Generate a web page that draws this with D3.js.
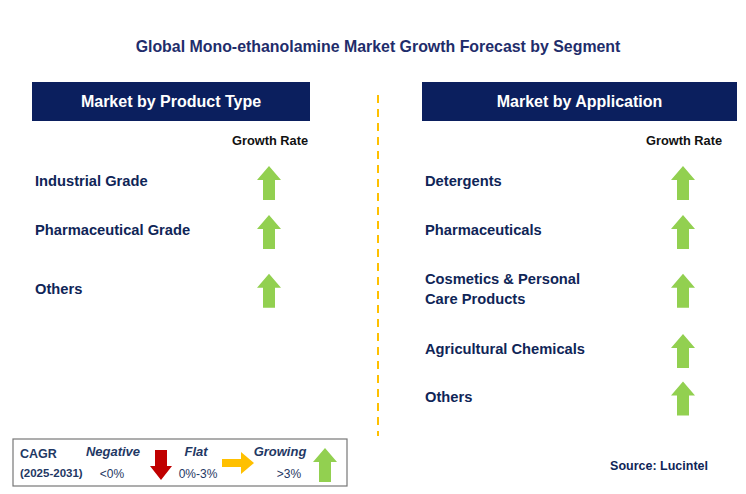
<!DOCTYPE html>
<html><head><meta charset="utf-8">
<script src="https://cdn.jsdelivr.net/npm/d3@7"></script>
<style>body{margin:0;background:#fff}text{font-family:Arial,"Liberation Sans",sans-serif}</style>
</head><body>
<script>
const title = "Global Mono-ethanolamine Market Growth Forecast by Segment";
const productTypes = ["Industrial Grade", "Pharmaceutical Grade", "Others"];
const productGrowth = ["growing", "growing", "growing"];
const applications = ["Detergents", "Pharmaceuticals", "Cosmetics & Personal|Care Products", "Agricultural Chemicals", "Others"];
const applicationGrowth = ["growing", "growing", "growing", "growing", "growing"];

const W = 746, H = 494;
const navy = "#0b1f5e", green = "#92d050", red = "#c00000", amber = "#ffc000";
const svg = d3.select("body").append("svg").attr("width", W).attr("height", H);

svg.append("text").attr("x", 378).attr("y", 52).attr("text-anchor", "middle")
  .attr("font-size", 15.9).attr("font-weight", "bold").attr("fill", "#1f2d6b").text(title);

// divider
svg.append("line").attr("x1", 378).attr("x2", 378).attr("y1", 95).attr("y2", 436)
  .attr("stroke", amber).attr("stroke-width", 2).attr("stroke-dasharray", "8,6");

function upArrow(g, cx, cy, color) {
  const w = 22, h = 34, hw = 10, sh = 14;
  g.append("path").attr("fill", color)
    .attr("d", `M${cx},${cy - h/2} L${cx + w/2 + 1},${cy - h/2 + sh} L${cx + hw/2 + 1},${cy - h/2 + sh} L${cx + hw/2 + 1},${cy + h/2} L${cx - hw/2 - 1},${cy + h/2} L${cx - hw/2 - 1},${cy - h/2 + sh} L${cx - w/2 - 1},${cy - h/2 + sh} Z`);
}

function panel(x0, x1, header, cats, growth, arrowX, slots) {
  const g = svg.append("g");
  g.append("rect").attr("x", x0).attr("y", 82).attr("width", x1 - x0).attr("height", 39).attr("fill", navy);
  g.append("text").attr("x", (x0 + x1) / 2).attr("y", 107).attr("text-anchor", "middle")
    .attr("fill", "#fff").attr("font-size", 16).attr("font-weight", "bold").text(header);
  g.append("text").attr("x", arrowX + 1).attr("y", 145).attr("text-anchor", "middle")
    .attr("font-size", 12.8).attr("font-weight", "bold").attr("fill", "#111").text("Growth Rate");
  const y = d3.scaleLinear().domain([0, 1]).range([181, 230]);
  cats.forEach((c, i) => {
    const cy = y(slots[i]);
    const lines = c.split("|");
    const t = g.append("text").attr("x", x0 + 3).attr("font-size", 14.7).attr("font-weight", "bold").attr("fill", "#0f2557");
    lines.forEach((l, j) => t.append("tspan").attr("x", x0 + 3)
      .attr("y", cy + 5 + (j - (lines.length - 1) / 2) * 20).text(l));
    upArrow(g, arrowX, cy + 2, growth[i] === "growing" ? green : red);
  });
}
panel(32, 310, "Market by Product Type", productTypes, productGrowth, 269, [0, 1, 2.2]);
panel(422, 737, "Market by Application", applications, applicationGrowth, 683, [0, 1, 2.2, 3.43, 4.4]);

// legend
const lg = svg.append("g");
lg.append("rect").attr("x", 13).attr("y", 439).attr("width", 334).attr("height", 47)
  .attr("fill", "#fff").attr("stroke", "#777").attr("stroke-width", 1.2);
lg.append("text").attr("x", 20).attr("y", 458).attr("font-size", 12.5).attr("font-weight", "bold").attr("fill", "#1f3864").text("CAGR");
lg.append("text").attr("x", 20).attr("y", 477).attr("font-size", 11.5).attr("font-weight", "bold").attr("fill", "#1f3864").text("(2025-2031)");
const it = [["Negative", 113, "<0%", 112], ["Flat", 196, "0%-3%", 198], ["Growing", 280, ">3%", 289]];
it.forEach(([a, x, b, bx]) => {
  lg.append("text").attr("x", x).attr("y", 456).attr("text-anchor", "middle").attr("font-size", 13)
    .attr("font-weight", "bold").attr("font-style", "italic").attr("fill", "#1f3864").text(a);
  lg.append("text").attr("x", bx).attr("y", 478).attr("text-anchor", "middle").attr("font-size", 12).attr("fill", "#1f3864").text(b);
});
lg.append("path").attr("fill", red).attr("d", "M155,450 L167,450 L167,466 L172,466 L161,480 L150,466 L155,466 Z");
lg.append("path").attr("fill", amber).attr("d", "M222,459 L241,459 L241,452 L254,463 L241,474 L241,467 L222,467 Z");
upArrow(lg, 325, 465, green);

svg.append("text").attr("x", 708).attr("y", 470).attr("text-anchor", "end").attr("font-size", 12.5)
  .attr("font-weight", "bold").attr("fill", "#0f2557").text("Source: Lucintel");
</script>
</body></html>
